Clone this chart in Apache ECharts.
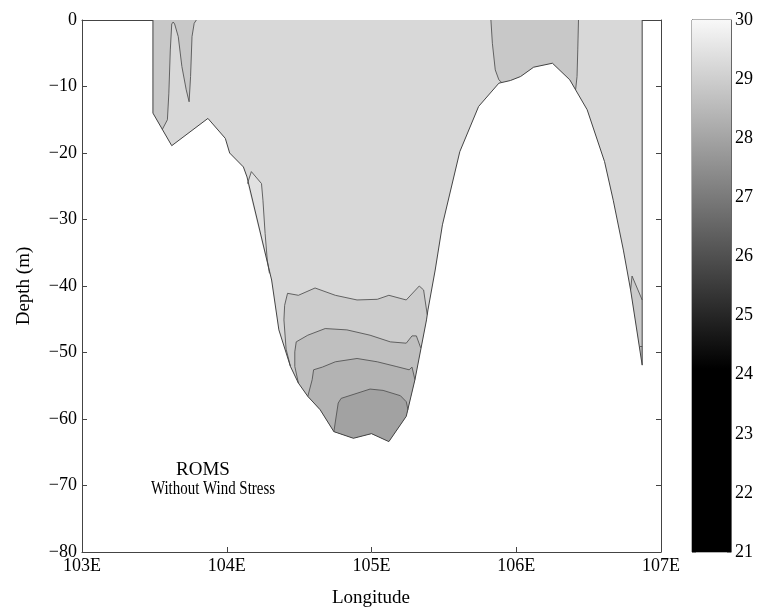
<!DOCTYPE html>
<html><head><meta charset="utf-8">
<script src="https://cdn.jsdelivr.net/npm/echarts@6/dist/echarts.min.js"></script>
<style>html,body{margin:0;padding:0;background:#fff}#c{width:758px;height:613px}</style>
</head><body><div id="c"></div>
<script>
const FONT = '"Liberation Serif","Times New Roman",serif';

// ---- axes / tick labels ----
const lonTicks = [103, 104, 105, 106, 107];
const lonLabels = ['103E', '104E', '105E', '106E', '107E'];
const depthTicks = [-80, -70, -60, -50, -40, -30, -20, -10, 0];
const depthLabels = ['\u221280', '\u221270', '\u221260', '\u221250', '\u221240', '\u221230', '\u221220', '\u221210', '0'];
const cbTicks = [21, 22, 23, 24, 25, 26, 27, 28, 29, 30];

// colormap (temperature -> gray level)
const cmapTemp = [21, 24.1, 30];
const cmapGray = [0, 0, 248];

// ---- bathymetry (bottom of section), [lon, depth] ----
const bottom = [
  [103.49, 0], [103.49, -14.0], [103.62, -18.9], [103.87, -14.8], [103.99, -17.8], [104.02, -20.0],
  [104.115, -22.1], [104.14, -23.6], [104.31, -39.1], [104.36, -46.6], [104.44, -52.1], [104.495, -54.6],
  [104.56, -56.6], [104.645, -58.6], [104.74, -61.9], [104.875, -62.9], [105.0, -62.2], [105.12, -63.4],
  [105.24, -59.6], [105.30, -54.1], [105.38, -45.1], [105.39, -43.6], [105.44, -37.6], [105.49, -30.8],
  [105.61, -19.8], [105.74, -13.0], [105.88, -9.5], [105.96, -9.1], [106.03, -8.5], [106.12, -7.1],
  [106.25, -6.5], [106.37, -9.0], [106.49, -13.5], [106.61, -21.3], [106.67, -27.1], [106.74, -34.6],
  [106.79, -40.6], [106.87, -51.9], [106.87, 0]
];

// ---- contour lines, [lon, depth] ----
const contourSurfLeft = [
  [103.555, -16.45], [103.59, -15.0], [103.60, -11.0], [103.61, -4.5], [103.62, -0.6], [103.63, -0.3],
  [103.64, -0.6], [103.665, -2.5], [103.69, -7.0], [103.72, -10.5], [103.74, -12.3], [103.75, -8.5],
  [103.76, -2.5], [103.775, -0.5], [103.79, 0]
];
const contourSurfRightA = [[105.825, 0], [105.835, -3.5], [105.855, -7.5], [105.88, -9.0], [105.90, -9.4]];
const contourSurfRightB = [[106.41, -10.5], [106.42, -8.5], [106.425, -4.5], [106.43, 0]];
const contourPatch = [
  [104.143, -24.6], [104.17, -22.8], [104.24, -24.6], [104.25, -27.1], [104.265, -32.1],
  [104.28, -36.1], [104.295, -38.1]
];
const contour1 = [
  [104.44, -52.1], [104.41, -49.5], [104.395, -45.1], [104.40, -42.9], [104.42, -41.1], [104.495, -41.4],
  [104.61, -40.3], [104.75, -41.4], [104.90, -42.1], [105.04, -42.0], [105.12, -41.4], [105.24, -42.1],
  [105.33, -40.0], [105.36, -40.6], [105.37, -42.1], [105.385, -44.3]
];
const contour2 = [
  [104.495, -54.6], [104.47, -52.1], [104.47, -49.9], [104.48, -48.4], [104.56, -47.4], [104.68, -46.4],
  [104.83, -46.6], [104.99, -47.4], [105.13, -48.4], [105.24, -48.6], [105.28, -47.5], [105.31, -47.5],
  [105.34, -49.3]
];
const contour3 = [
  [104.56, -56.6], [104.59, -54.1], [104.60, -52.6], [104.66, -52.2], [104.75, -51.4], [104.90, -50.9],
  [105.04, -51.4], [105.17, -52.1], [105.26, -52.6], [105.28, -52.2], [105.30, -54.1]
];
const contour4 = [
  [104.74, -61.9], [104.77, -57.6], [104.79, -56.9], [104.99, -55.5], [105.08, -55.7], [105.20, -56.5],
  [105.24, -57.4], [105.252, -58.6]
];
const contourEdge = [[106.79, -40.6], [106.80, -38.5], [106.87, -42.1]];
const contourEdge2 = [[106.855, -49.1], [106.87, -49.1]];

// ---- region temperatures (deg C) ----
const tempMain = 29.25, tempSurf = 28.85, tempPatch = 29.45;
const tempBand1 = 28.95, tempBand2 = 28.65, tempBand3 = 28.35, tempBand4 = 27.95;
const tempEdge = 28.9, tempEdge2 = 28.6;

// ------------------------------------------------------------
function gray(t) {
  let g;
  if (t <= cmapTemp[0]) g = cmapGray[0];
  else if (t >= cmapTemp[cmapTemp.length - 1]) g = cmapGray[cmapGray.length - 1];
  else {
    for (let i = 0; i < cmapTemp.length - 1; i++) {
      if (t >= cmapTemp[i] && t <= cmapTemp[i + 1]) {
        g = cmapGray[i] + (cmapGray[i + 1] - cmapGray[i]) * (t - cmapTemp[i]) / (cmapTemp[i + 1] - cmapTemp[i]);
        break;
      }
    }
  }
  g = Math.round(g);
  return 'rgb(' + g + ',' + g + ',' + g + ')';
}
// region below a contour that starts and ends on the bottom
function closeWithBottom(line) {
  const a = line[0][0], b = line[line.length - 1][0];
  const lo = Math.min(a, b), hi = Math.max(a, b);
  const seg = bottom.filter(p => p[0] > lo && p[0] < hi && p[1] < 0);
  return line.concat(seg.slice().reverse());
}
const surfLeftPoly = [[103.49, 0], [103.49, -14.0]].concat(contourSurfLeft);
const surfRightPoly = contourSurfRightA
  .concat(bottom.filter(p => p[0] > 105.90 && p[0] < 106.41))
  .concat(contourSurfRightB);

const regions = [
  { pts: bottom, t: tempMain },
  { pts: contourPatch, t: tempPatch },
  { pts: surfLeftPoly, t: tempSurf },
  { pts: surfRightPoly, t: tempSurf },
  { pts: closeWithBottom(contour1), t: tempBand1 },
  { pts: closeWithBottom(contour2), t: tempBand2 },
  { pts: closeWithBottom(contour3), t: tempBand3 },
  { pts: closeWithBottom(contour4), t: tempBand4 },
  { pts: contourEdge.concat([[106.87, -51.9]]), t: tempEdge },
  { pts: contourEdge2.concat([[106.87, -51.9]]), t: tempEdge2 }
];
const lines = [contourSurfLeft, contourSurfRightA, contourSurfRightB, contourPatch,
  contour1, contour2, contour3, contour4, contourEdge, contourEdge2];
const outline = bottom.slice(0, bottom.length); // drawn as polyline (open at surface)

const chart = echarts.init(document.getElementById('c'));

const axisLineStyle = { color: '#444', width: 1 };
const labelStyle = { fontFamily: FONT, fontSize: 18, color: '#000' };

const option = {
  animation: false,
  backgroundColor: '#fff',
  grid: [
    { left: 82, top: 20, width: 579, height: 532, show: false },
    { left: 692, top: 20, width: 39, height: 532, show: true, borderColor: '#666', borderWidth: 1, backgroundColor: 'transparent' }
  ],
  xAxis: [
    { gridIndex: 0, type: 'value', min: 103, max: 107, interval: 1, position: 'bottom',
      axisLine: { show: true, onZero: false, lineStyle: axisLineStyle },
      axisTick: { show: true, inside: true, length: 5, lineStyle: axisLineStyle },
      axisLabel: Object.assign({ margin: 5, formatter: v => lonLabels[lonTicks.indexOf(v)] }, labelStyle),
      splitLine: { show: false } },
    { gridIndex: 0, type: 'value', min: 103, max: 107, interval: 1, position: 'top',
      axisLine: { show: true, onZero: false, lineStyle: axisLineStyle },
      axisTick: { show: true, inside: true, length: 5, lineStyle: axisLineStyle },
      axisLabel: { show: false }, splitLine: { show: false } },
    { gridIndex: 1, type: 'value', min: 0, max: 1, show: false }
  ],
  yAxis: [
    { gridIndex: 0, type: 'value', min: -80, max: 0, interval: 10, position: 'left',
      axisLine: { show: true, onZero: false, lineStyle: axisLineStyle },
      axisTick: { show: true, inside: true, length: 5, lineStyle: axisLineStyle },
      axisLabel: Object.assign({ margin: 5, formatter: v => depthLabels[depthTicks.indexOf(v)] }, labelStyle),
      splitLine: { show: false } },
    { gridIndex: 0, type: 'value', min: -80, max: 0, interval: 10, position: 'right',
      axisLine: { show: true, onZero: false, lineStyle: axisLineStyle },
      axisTick: { show: true, inside: true, length: 5, lineStyle: axisLineStyle },
      axisLabel: { show: false }, splitLine: { show: false } },
    { gridIndex: 1, type: 'value', min: 21, max: 30, interval: 1, position: 'right',
      axisLine: { show: true, onZero: false, lineStyle: { color: '#666' } },
      axisTick: { show: true, inside: true, length: 4, lineStyle: { color: '#777' } },
      axisLabel: Object.assign({ margin: 4, formatter: v => String(cbTicks[cbTicks.indexOf(v)]) }, labelStyle),
      splitLine: { show: false } },
    { gridIndex: 1, type: 'value', min: 21, max: 30, interval: 1, position: 'left',
      axisLine: { show: true, onZero: false, lineStyle: { color: '#666' } },
      axisTick: { show: true, inside: true, length: 4, lineStyle: { color: '#777' } },
      axisLabel: { show: false }, splitLine: { show: false } }
  ],
  series: [
    { type: 'custom', xAxisIndex: 0, yAxisIndex: 0, z: 1, clip: true,
      data: regions.map((r, i) => [r.pts[0][0], r.pts[0][1], i]),
      encode: { x: 0, y: 1 },
      renderItem: function (params, api) {
        const r = regions[params.dataIndex];
        return { type: 'polygon', shape: { points: r.pts.map(p => api.coord(p)) },
          style: { fill: gray(r.t), stroke: null } };
      } },
    { type: 'custom', xAxisIndex: 0, yAxisIndex: 0, z: 2, clip: true,
      data: lines.map((l, i) => [l[0][0], l[0][1], i]),
      encode: { x: 0, y: 1 },
      renderItem: function (params, api) {
        const l = lines[params.dataIndex];
        return { type: 'polyline', shape: { points: l.map(p => api.coord(p)) },
          style: { fill: null, stroke: '#555', lineWidth: 0.9 } };
      } },
    { type: 'custom', xAxisIndex: 0, yAxisIndex: 0, z: 3, clip: true,
      data: [[outline[0][0], outline[0][1]]],
      encode: { x: 0, y: 1 },
      renderItem: function (params, api) {
        return { type: 'polyline', shape: { points: outline.map(p => api.coord(p)) },
          style: { fill: null, stroke: '#444', lineWidth: 1 } };
      } },
    { type: 'custom', xAxisIndex: 2, yAxisIndex: 2, z: 1,
      data: [[0, cbTicks[0], cbTicks[cbTicks.length - 1]]],
      encode: { x: 0, y: [1, 2] },
      renderItem: function (params, api) {
        const tMin = api.value(1), tMax = api.value(2);
        const p0 = api.coord([0, tMax]), p1 = api.coord([1, tMin]);
        const stops = [];
        for (let i = cmapTemp.length - 1; i >= 0; i--) {
          stops.push({ offset: (tMax - cmapTemp[i]) / (tMax - tMin), color: gray(cmapTemp[i]) });
        }
        return { type: 'rect', shape: { x: p0[0], y: p0[1], width: p1[0] - p0[0], height: p1[1] - p0[1] },
          style: { fill: { type: 'linear', x: 0, y: 0, x2: 0, y2: 1, colorStops: stops } } };
      } }
  ],
  graphic: [
    { type: 'text', x: 24, y: 286, rotation: Math.PI / 2,
      style: { text: 'Depth (m)', fill: '#000', font: '19px ' + FONT, align: 'center', verticalAlign: 'middle' } },
    { type: 'text', x: 371, y: 598,
      style: { text: 'Longitude', fill: '#000', font: '19px ' + FONT, align: 'center', verticalAlign: 'middle' } },
    { type: 'text', x: 203, y: 470,
      style: { text: 'ROMS', fill: '#000', font: '19px ' + FONT, align: 'center', verticalAlign: 'middle' } },
    { type: 'text', x: 213, y: 489, scaleX: 0.83,
      style: { text: 'Without Wind Stress', fill: '#000', font: '18px ' + FONT, align: 'center', verticalAlign: 'middle' } }
  ]
};
chart.setOption(option);
</script>
</body></html>
